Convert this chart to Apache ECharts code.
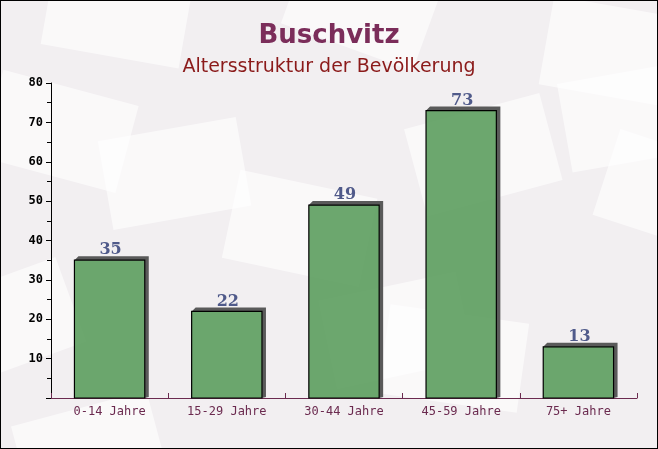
<!DOCTYPE html>
<html><head><meta charset="utf-8">
<script src="https://cdn.jsdelivr.net/npm/echarts@6/dist/echarts.min.js"></script>
<style>html,body{margin:0;padding:0;background:#fff}#c{width:658px;height:449px;box-sizing:border-box;border:1px solid #000;background:#f2eff1}</style>
</head><body><div id="c"></div>
<script>
var categories = ["0-14 Jahre","15-29 Jahre","30-44 Jahre","45-59 Jahre","75+ Jahre"];
var values = [35,22,49,73,13];
var titleText = "Buschvitz";
var subtitleText = "Altersstruktur der Bevölkerung";

var chart = echarts.init(document.getElementById('c'), null, {renderer:'canvas'});
var envelopes = [];
var envs = [[40,120,-15],[190,150,10],[330,90,-20],[470,50,15],[590,140,-10],[90,300,20],[250,260,-12],[430,250,12],[560,330,-18],[180,410,15],[400,400,-8],[620,20,10],[120,20,-10]];
envs.forEach(function(e){
  envelopes.push({type:'rect', x:e[0]-70, y:e[1]-45, shape:{width:140,height:90}, rotation:e[2]*Math.PI/180, originX:e[0], originY:e[1], style:{fill:'rgba(255,255,255,0.6)'}, z:-10, silent:true});
});
var D = 4;
function renderBar(params, api){
  var idx = api.value(0);
  var val = api.value(1);
  var top = api.coord([idx, val]);
  var base = api.coord([idx, 0]);
  var bw = api.size([1,0])[0]*0.6;
  var x0 = top[0]-bw/2, x1 = top[0]+bw/2, yt = top[1], yb = base[1];
  return {type:'group', children:[
    {type:'polygon', shape:{points:[[x0,yt],[x0+D,yt-D],[x1+D,yt-D],[x1+D,yb-1],[x1,yb],[x1,yt]]}, style:{fill:'#5a5a5a'}},
    {type:'rect', shape:{x:x0, y:yt, width:bw, height:yb-yt}, style:{fill:'rgba(95,160,98,0.92)', stroke:'#000', lineWidth:1.2}},
    {type:'text', style:{text:String(val), x:top[0]+1, y:yt-2, align:'center', verticalAlign:'bottom', font:'bold 16px "DejaVu Serif"', fill:'#505a8a'}}
  ]};
}
chart.setOption({
  backgroundColor:'transparent',
  graphic: envelopes,
  title:[
    {text:titleText, left:'center', top:17, textStyle:{fontFamily:'DejaVu Sans', fontWeight:'bold', fontSize:26, color:'#7b2d5a'}},
    {text:subtitleText, left:'center', top:52, textStyle:{fontFamily:'DejaVu Sans', fontWeight:'normal', fontSize:19, color:'#8b1a1a'}}
  ],
  grid:{left:50, right:20, top:82, bottom:50},
  xAxis:{type:'category', data:categories,
    axisLine:{lineStyle:{color:'#6b2a4f', width:1}},
    axisTick:{show:true, inside:true, length:5, lineStyle:{color:'#6b2a4f'}},
    axisLabel:{fontFamily:'DejaVu Sans Mono', fontSize:12, color:'#6b2a4f', margin:8}
  },
  yAxis:{type:'value', min:0, max:80, interval:10,
    axisLine:{show:true, lineStyle:{color:'#000', width:1}},
    axisTick:{show:true, length:5, lineStyle:{color:'#000'}},
    minorTick:{show:true, splitNumber:2, length:4, lineStyle:{color:'#000'}},
    splitLine:{show:false},
    axisLabel:{showMinLabel:false, fontFamily:'DejaVu Sans Mono', fontWeight:'bold', fontSize:12, color:'#000', margin:8}
  },
  series:[{type:'custom', renderItem:renderBar, data:values.map(function(v,i){return [i,v];}), encode:{x:0,y:1}}]
});
</script></body></html>
